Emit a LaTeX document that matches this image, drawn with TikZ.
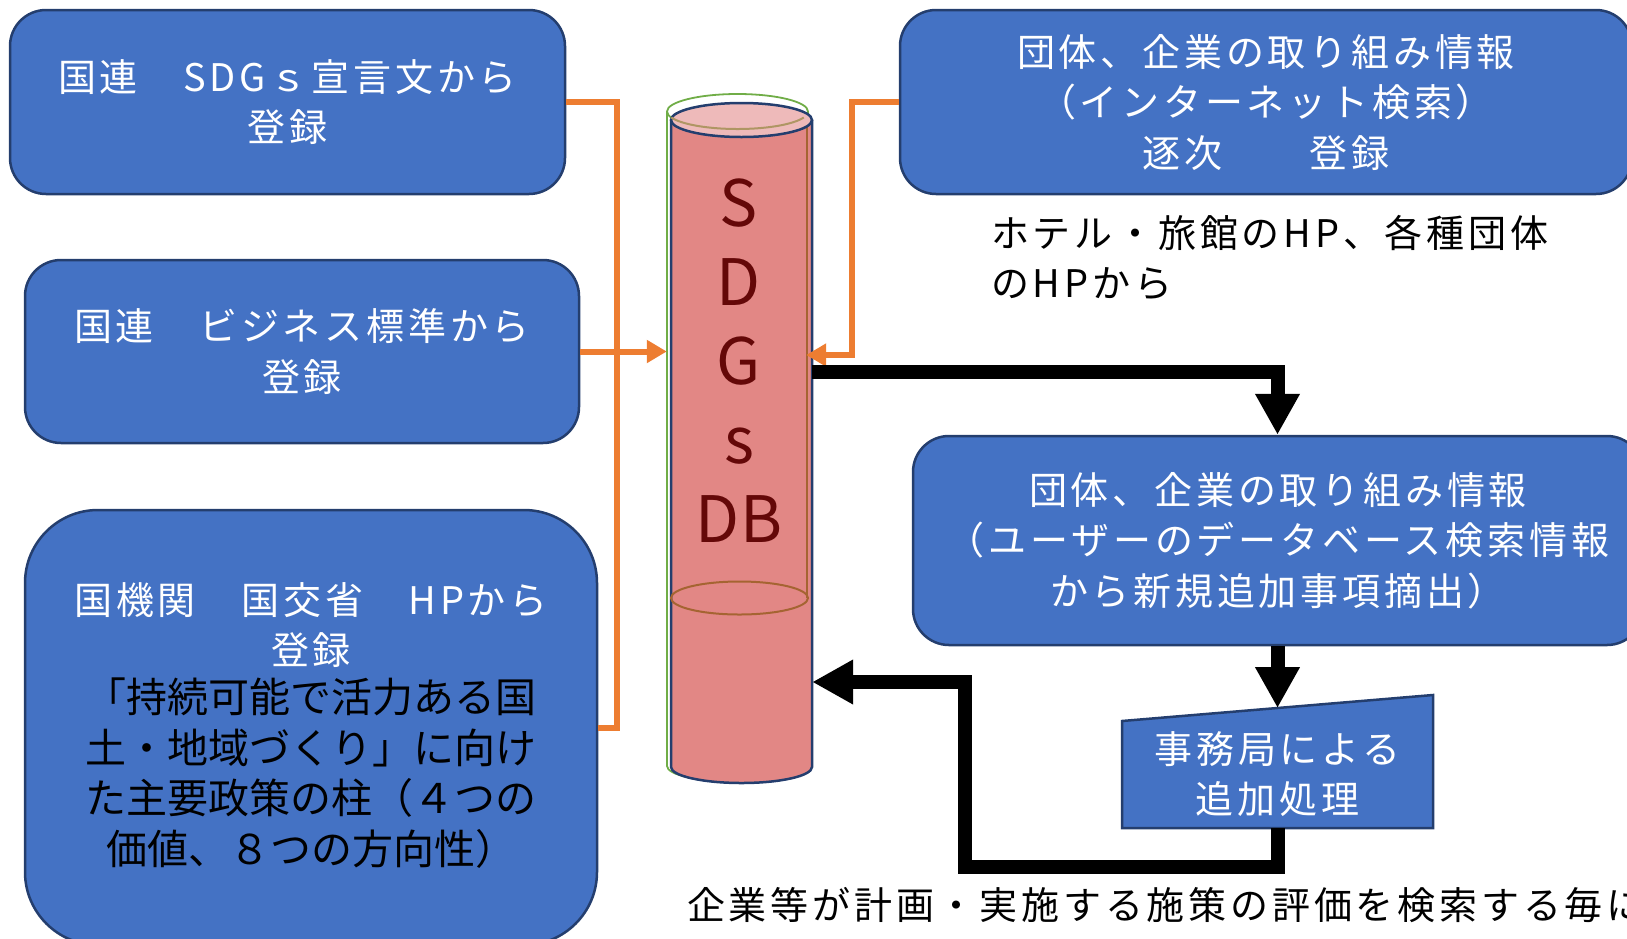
\documentclass[tikz,border=0pt]{standalone}
\usepackage{fontspec}
\setmainfont{Noto Sans CJK JP}
\newfontfamily\lsp{Noto Sans CJK JP}[LetterSpace=10]
\usetikzlibrary{arrows.meta,calc}
\definecolor{boxblue}{RGB}{68,114,196}
\definecolor{boxedge}{RGB}{36,62,110}
\definecolor{orng}{RGB}{237,125,49}
\definecolor{cylpink}{RGB}{226,135,133}
\definecolor{cyltop}{RGB}{238,186,186}
\definecolor{cylgreen}{RGB}{112,173,71}
\definecolor{cylbrown}{RGB}{165,100,50}
\definecolor{cylolive}{RGB}{175,150,100}
\definecolor{dbred}{RGB}{100,8,8}
\tikzset{
  box/.style={draw=boxedge, line width=2.5pt, fill=boxblue, rounded corners=36pt,
    inner sep=0pt, align=center, text=white, font=\lsp\fontsize{38}{50.5}\selectfont},
  wtext/.style={align=center, text=white, inner sep=0pt, font=\lsp\fontsize{38}{50.5}\selectfont},
  ktext/.style={align=center, text=black, inner sep=0pt, font=\fontsize{41}{50.5}\selectfont},
  ltext/.style={align=left, text=black, inner sep=0pt, font=\lsp\fontsize{38}{50}\selectfont},
  oline/.style={draw=orng, line width=6pt},
  otip/.style={-{Triangle[length=20pt,width=22pt]}},
  bline/.style={draw=black, line width=14pt, line join=miter},
  btip/.style={-{Triangle[length=41pt,width=42pt]}},
  cyledge/.style={draw=boxedge, line width=2.5pt},
}
\begin{document}
\begin{tikzpicture}[x=1pt,y=-1pt]
\useasboundingbox (0,0) rectangle (1627,938);
\clip (0,0) rectangle (1627,938);

% boxes
\node[box, minimum width=555pt, minimum height=184pt] (b1) at (287.5,102)
  {国連　SDGｓ宣言文から\\登録};
\node[box, minimum width=554pt, minimum height=183pt] (b2) at (302,351.5)
  {国連　ビジネス標準から\\登録};
\node[box, rounded corners=73pt, minimum width=572pt, minimum height=435pt] (b3) at (311,727.5) {};
\node[wtext] (b3a) at (311,625) {国機関　国交省　HPから\\登録};
\node[ktext] (b3b) at (311,773) {「持続可能で活力ある国\\土・地域づくり」に向け\\た主要政策の柱（４つの\\価値、８つの方向性）};
\node[box, minimum width=732pt, minimum height=184pt] (b4) at (1266,102)
  {団体、企業の取り組み情報\\（インターネット検索）\\逐次　　登録};
\node[box, minimum width=730pt, minimum height=209pt] (b5) at (1278,540.5)
  {団体、企業の取り組み情報\\（ユーザーのデータベース検索情報\\から新規追加事項摘出）};

% trapezoid (manual input)
\coordinate (tTL) at (1122,721);
\coordinate (tTR) at (1433,695);
\coordinate (tBR) at (1433,828);
\coordinate (tBL) at (1122,828);
\coordinate (tTop) at ($(tTL)!0.5!(tTR)$);
\coordinate (tBot) at ($(tBL)!0.5!(tBR)$);
\draw[cyledge, fill=boxblue] (tTL) -- (tTR) -- (tBR) -- (tBL) -- cycle;
\node[wtext] (tr) at (1277.5,774) {事務局による\\追加処理};

% free texts
\node[ltext, anchor=west] (hotel) at (991,258) {ホテル・旅館のHP、各種団体\\のHPから};
\node[ltext, anchor=west] (bottom) at (687,905) {企業等が計画・実施する施策の評価を検索する毎に};

% cylinder
\draw[cylgreen, line width=1.8pt] (667,111.5) -- (667,766)
  arc[start angle=180,end angle=360,x radius=70.5pt,y radius=16pt] -- (808,111.5);
\draw[cylgreen, line width=1.8pt] (737.5,111.5) ellipse[x radius=70.5pt,y radius=17.5pt];
\fill[cylpink] (671,120) -- (671,767)
  arc[start angle=180,end angle=360,x radius=70.5pt,y radius=16pt] -- (812,120) -- cycle;
\draw[cylbrown, line width=2pt] (807,120) -- (807,598);
\draw[cyledge] (671,120) -- (671,767)
  arc[start angle=180,end angle=360,x radius=70.5pt,y radius=16pt] -- (812,120);
\draw[cyledge, fill=cyltop] (741.5,120) ellipse[x radius=70.5pt,y radius=17pt];
\draw[cylolive, line width=2pt] ([shift={(200:70.5pt and 17.5pt)}]737.5,111.5)
  arc[start angle=200,end angle=340,x radius=70.5pt,y radius=17.5pt];
\draw[cylbrown, line width=2pt] (739.5,598) ellipse[x radius=68.5pt,y radius=16.5pt];
\node[minimum width=141pt, minimum height=647pt, inner sep=0pt] (db) at (741.5,443.5) {};
\node[align=center, text=dbred, inner sep=0pt, font=\fontsize{64}{79}\selectfont] (dbt) at (739,361)
  {S\\D\\G\\s\\DB};

% orange connectors
\coordinate (oR) at ($(db.east |- 0,355)+(-6,0)$);
\coordinate (oL) at ($(db.west |- b2.east)+(-4,0)$);
\draw[oline] (b1.east) -- ++(51,0) |- (b3.east);
\draw[oline, otip] (b2.east) -- (oL);
\draw[oline, otip] (b4.west) -- ++(-47,0) |- (oR);

% black connectors
\coordinate (k1) at (db.east |- 0,372);
\coordinate (k2) at (db.east |- 0,682);
\draw[bline, btip] (k1) -| (tTop |- b5.north);
\draw[bline, btip] (b5.south -| tTop) -- (tTop);
\draw[bline, btip] (tBot) |- (965,867) |- (k2);
\end{tikzpicture}
\end{document}
